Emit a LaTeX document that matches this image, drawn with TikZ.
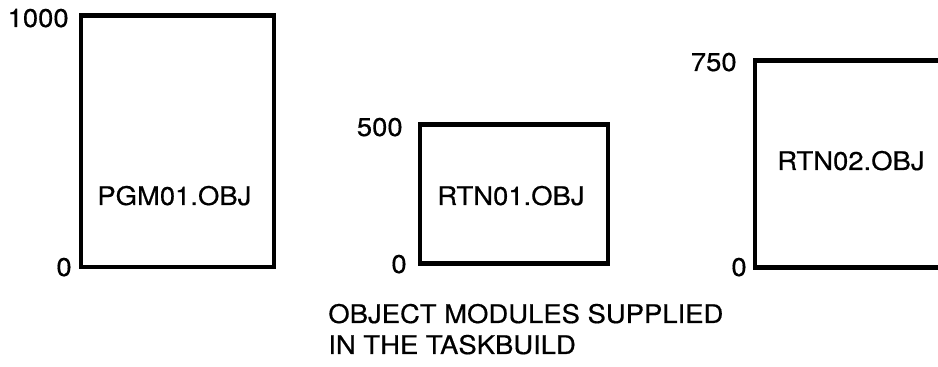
\documentclass[tikz,border=0pt]{standalone}
\usepackage{fontspec}
\setmainfont{TeX Gyre Heros}[FakeStretch=1.07, FakeBold=0.5]
\tikzset{
  modbox/.style={line width=2.7pt, line join=miter},
  lbl/.style={inner sep=0pt, font=\fontsize{14.6}{17}\selectfont}
}
\begin{document}
\begin{tikzpicture}[x=0.02cm, y=-0.02cm]
    \useasboundingbox (0,0) rectangle (938,367);

    % module boxes
    \draw[modbox] (81,15.5) rectangle (274,267);
    \draw[modbox] (420,124.5) rectangle (608,263.5);
    \draw[modbox] (755,60.5) rectangle (975,267.5);

    % addresses
    \node[lbl, anchor=base east] (pgmtop) at (69,27) {1000};
    \node[lbl, anchor=base east] (pgmbot) at (72,276) {0};
    \node[lbl, anchor=base east] (rtnatop) at (403,136) {500};
    \node[lbl, anchor=base east] (rtnabot) at (407,273) {0};
    \node[lbl, anchor=base east] (rtnbtop) at (737,71) {750};
    \node[lbl, anchor=base east] (rtnbbot) at (747,276) {0};

    % module names
    \node[lbl, anchor=base west] (pgm) at (97,205) {PGM01.OBJ};
    \node[lbl, anchor=base west] (rtna) at (437,205) {RTN01.OBJ};
    \node[lbl, anchor=base west] (rtnb) at (777,170) {RTN02.OBJ};

    \node[lbl, anchor=base west] (capa) at (328,323) {OBJECT MODULES SUPPLIED};
    \node[lbl, anchor=base west] (capb) at (328,354) {IN THE TASKBUILD};
\end{tikzpicture}
\end{document}
